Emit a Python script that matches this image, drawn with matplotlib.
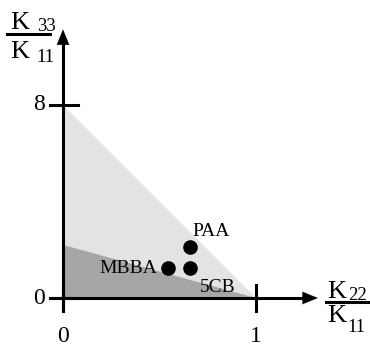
import numpy as np
import matplotlib.pyplot as plt
from matplotlib.lines import Line2D

plt.rcParams['font.family'] = ['Liberation Serif', 'DejaVu Serif']

# regions (K22/K11, K33/K11)
light_region = [(0, 0), (0, 8), (1, 0)]
dark_region = [(0, 0), (0, 2.2), (1, 0)]

# materials
names = ['PAA', 'MBBA', '5CB']
k22 = [0.658, 0.544, 0.658]
k33 = [2.13, 1.24, 1.24]

xticks = [0, 1]
yticks = [0, 8]

W, H = 370, 346
fig = plt.figure(figsize=(W / 100, H / 100), dpi=100)
ax = fig.add_axes([0, 0, 1, 1])
ax.axis('off')

# pixel mapping: x=0 -> 63px, x=1 -> 256px ; y=0 -> 298px, y=8 -> 105px
sx = 193.0
sy = 193.0 / 8
ax.set_xlim(-63 / sx, (W - 63) / sx)
ax.set_ylim(-(H - 298) / sy, 298 / sy)

ax.add_patch(plt.Polygon(light_region, closed=True, facecolor='#e3e3e3', edgecolor='none'))
ax.add_patch(plt.Polygon(dark_region, closed=True, facecolor='#a6a6a6', edgecolor='none'))

lw = 2.2
# axes with arrows
ax.plot([-13 / sx, 1.27], [0, 0], color='black', lw=lw, solid_capstyle='butt')
ax.plot([0, 0], [-13 / sy, 10.9], color='black', lw=lw, solid_capstyle='butt')
ax.annotate('', xy=(1.335, 0), xytext=(1.24, 0),
            arrowprops=dict(arrowstyle='-|>,head_length=1.1,head_width=0.45',
                            color='black', lw=0.1))
ax.annotate('', xy=(0, 11.25), xytext=(0, 10.6),
            arrowprops=dict(arrowstyle='-|>,head_length=1.1,head_width=0.45',
                            color='black', lw=0.1))

# ticks
for t in xticks:
    ax.plot([t, t], [-13 / sy, 13 / sy], color='black', lw=lw)
    ax.text(t, -38 / sy, str(t), ha='center', va='center', fontsize=17)
for t in yticks:
    ax.plot([-13 / sx, 15 / sx], [t, t], color='black', lw=lw)
    ax.text(-18 / sx, t, str(t), ha='right', va='center', fontsize=17)

# points
ax.plot(k22, k33, 'o', color='black', markersize=9.5, linestyle='none')
ax.text(k22[0] + 0.01, k33[0] + 0.46, names[0], ha='left', va='baseline', fontsize=14)
ax.text(k22[1] - 0.058, k33[1] - 0.21, names[1], ha='right', va='baseline', fontsize=14)
ax.text(k22[2] + 0.05, k33[2] - 1.0, names[2], ha='left', va='baseline', fontsize=14)


def frac(x0, x1, yline, kl, ktop, kbot, sl_top, stop, sl_bot, sbot, sub_top, sub_bot):
    # positions in pixels from the top-left corner
    fig.add_artist(Line2D([x0 / W, x1 / W], [1 - yline / H, 1 - yline / H],
                          color='black', lw=2.2))
    fig.text(kl / W, 1 - ktop / H, 'K', ha='left', va='baseline', fontsize=19)
    fig.text(sl_top / W, 1 - stop / H, sub_top, ha='left', va='baseline', fontsize=13.5)
    fig.text(kl / W, 1 - kbot / H, 'K', ha='left', va='baseline', fontsize=19)
    fig.text(sl_bot / W, 1 - sbot / H, sub_bot, ha='left', va='baseline', fontsize=13.5)


frac(7, 50, 34, 10, 29, 58, 37, 31, 36, 62, '33', '11')
frac(326, 370, 302, 327, 298, 322, 348, 300, 347, 332, '22', '11')

fig.savefig('out.png', dpi=100)
